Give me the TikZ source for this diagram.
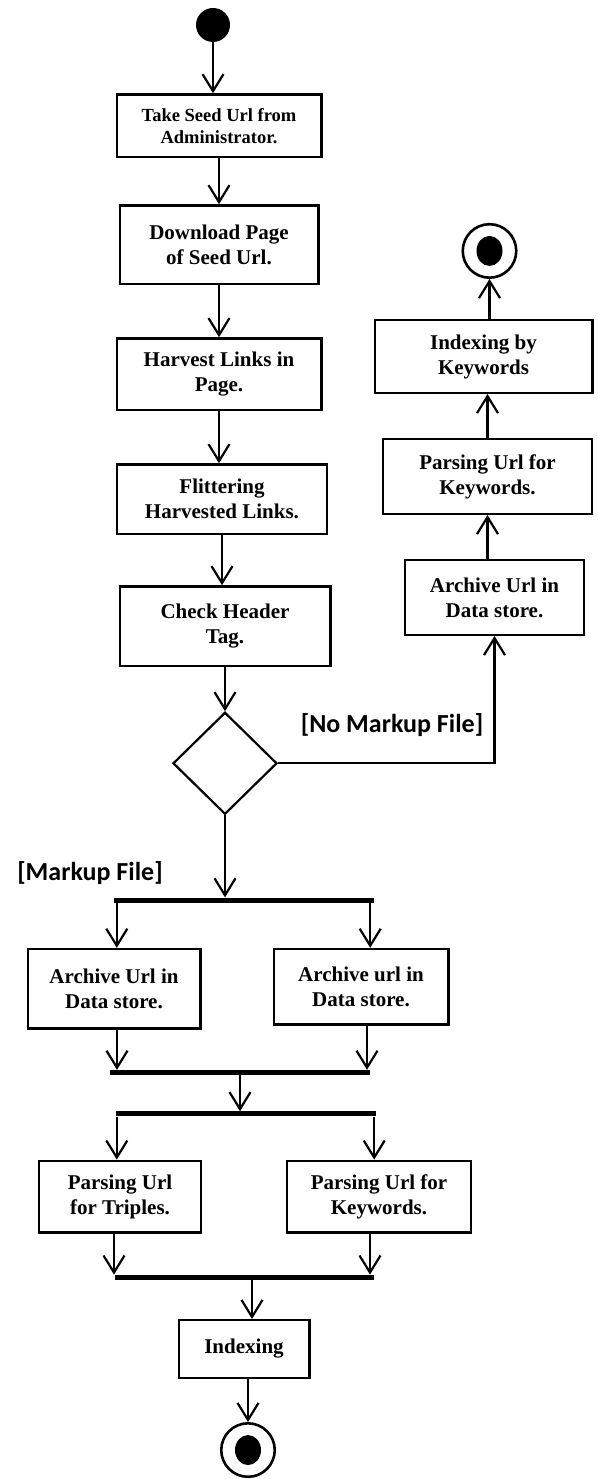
\documentclass[tikz,border=0pt]{standalone}
\usepackage{fontspec}
\setmainfont{Liberation Serif}
\newfontfamily\guardfont{Carlito}
\usetikzlibrary{arrows.meta,positioning,shapes.geometric}

\begin{document}
\begin{tikzpicture}[x=1pt, y=-1pt,
  box/.style={rectangle, draw, line width=2.4pt, align=center, inner sep=0pt, font=\bfseries\fontsize{21}{25}\selectfont},
  bar/.style={rectangle, fill=black, inner sep=0pt, minimum height=5pt},
  initial/.style={circle, fill=black, inner sep=0pt, minimum size=34pt},
  final/.style={circle, draw, line width=2.6pt, inner sep=0pt, minimum size=53.5pt, path picture={\fill (path picture bounding box.center) ellipse (13pt and 15pt);}},
  choice/.style={diamond, draw, line width=2.2pt, inner sep=0pt, minimum width=104pt, minimum height=102pt},
  guard/.style={font=\guardfont\bfseries\fontsize{26}{30}\selectfont, inner sep=0pt},
  arr/.style={-{Straight Barb[length=17pt,width=21pt]}, line width=2.2pt}]
\useasboundingbox (0,0) rectangle (597,1479);
% main flow
\node[initial] (start) at (213,25) {};
\node[box, minimum width=204.6pt, minimum height=62.6pt, below=51pt of start, xshift=6pt, font=\bfseries\fontsize{18.5}{22}\selectfont] (seed) {Take Seed Url from\\Administrator.};
\node[box, minimum width=198.6pt, minimum height=78.6pt, below=46pt of seed] (down) {Download Page\\of Seed Url.};
\node[box, minimum width=204.6pt, minimum height=71.6pt, below=52pt of down] (harv) {Harvest Links in\\Page.};
\node[box, minimum width=209.6pt, minimum height=69.6pt, below=52pt of harv, xshift=3pt] (filt) {Flittering\\Harvested Links.};
\node[box, minimum width=210.6pt, minimum height=79.6pt, below=50pt of filt, xshift=3pt] (head) {Check Header\\Tag.};
\node[choice, below=44pt of head] (dec) {};
% markup branch
\node[bar, minimum width=260pt, below=82pt of dec, xshift=19pt] (fork1) {};
\node[box, minimum width=172.6pt, minimum height=79.6pt, below=45pt of fork1, xshift=-130pt] (arcA) {Archive Url in\\Data store.};
\node[box, minimum width=174.6pt, minimum height=75.6pt, below=45pt of fork1, xshift=117pt] (arcB) {Archive url in\\Data store.};
\node[bar, minimum width=260pt, below=40pt of arcA, xshift=126pt] (join1) {};
\node[bar, minimum width=260pt, below=36pt of join1, xshift=6pt] (fork2) {};
\node[box, minimum width=161.6pt, minimum height=71.6pt, below=43pt of fork2, xshift=-126pt] (parT) {Parsing Url\\for Triples.};
\node[box, minimum width=183.6pt, minimum height=71.6pt, below=43pt of fork2, xshift=133pt] (parK) {Parsing Url for\\Keywords.};
\node[bar, minimum width=259pt, below=41pt of parT, xshift=124pt] (join2) {};
\node[box, minimum width=130.6pt, minimum height=57.6pt, below=39pt of join2] (idx) {Indexing};
\node[final, below=43pt of idx, xshift=4pt] (end1) {};
% no markup branch
\node[box, minimum width=178.6pt, minimum height=74.6pt] (arcR) at (494.5,597.5) {Archive Url in\\Data store.};
\node[box, minimum width=208.6pt, minimum height=74.6pt, above=44pt of arcR, xshift=-7pt] (parR) {Parsing Url for\\Keywords.};
\node[box, minimum width=217.6pt, minimum height=72.6pt, above=44pt of parR, xshift=-4pt] (idxR) {Indexing by\\Keywords};
\node[final, above=40pt of idxR, xshift=6pt] (end2) {};
% guards
\node[guard] (nomark) at (392,725) {[No Markup File]};
\node[guard] (mark) at (90,873) {[Markup File]};

\draw[arr] (start) -- (start |- seed.north);
\draw[arr] (seed) -- (seed |- down.north);
\draw[arr] (down) -- (down |- harv.north);
\draw[arr] (harv) -- (harv |- filt.north);
\draw[arr] (filt) -- (filt |- head.north);
\draw[arr] (head) -- (head |- dec.north);
\draw[arr] (dec) -- (dec |- fork1.north);
\draw[arr] (dec.east) -| (arcR);
\draw[arr] (parR |- arcR.north) -- (parR);
\draw[arr] (parR) -- (parR |- idxR.south);
\draw[arr] (end2 |- idxR.north) -- (end2);
\draw[arr] ([xshift=3pt]fork1.south west) -- ([xshift=3pt]fork1.south west |- arcA.north);
\draw[arr] ([xshift=-4pt]fork1.south east) -- ([xshift=-4pt]fork1.south east |- arcB.north);
\draw[arr] ([xshift=3pt]arcA.south) -- ([xshift=3pt]arcA.south |- join1.north);
\draw[arr] ([xshift=6pt]arcB.south) -- ([xshift=6pt]arcB.south |- join1.north);
\draw[arr] (join1) -- (join1 |- fork2.north);
\draw[arr] ([xshift=1pt]fork2.south west) -- ([xshift=1pt]fork2.south west |- parT.north);
\draw[arr] ([xshift=-2pt]fork2.south east) -- ([xshift=-2pt]fork2.south east |- parK.north);
\draw[arr] ([xshift=-6pt]parT.south) -- ([xshift=-6pt]parT.south |- join2.north);
\draw[arr] ([xshift=-9pt]parK.south) -- ([xshift=-9pt]parK.south |- join2.north);
\draw[arr] ([xshift=8pt]join2.south) -- ([xshift=8pt]join2.south |- idx.north);
\draw[arr] (end1 |- idx.south) -- (end1);
\end{tikzpicture}
\end{document}
